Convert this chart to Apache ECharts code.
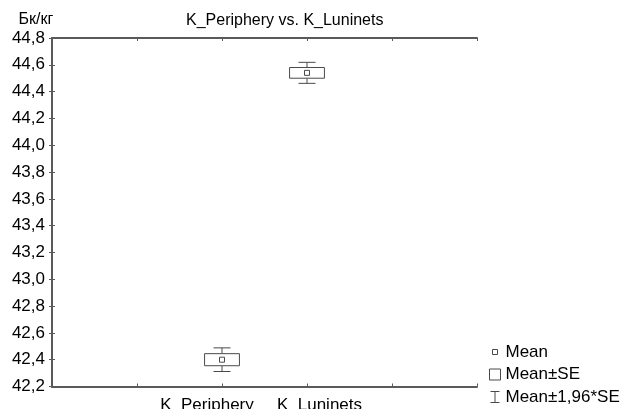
<!DOCTYPE html>
<html>
<head>
<meta charset="utf-8">
<script src="https://cdn.jsdelivr.net/npm/echarts@6/dist/echarts.min.js"></script>
<style>html,body{margin:0;padding:0;background:#fff;}#c{width:632px;height:409px;}</style>
</head>
<body>
<div id="c"></div>
<script>
// ---- data ----
const categories = ['K_Periphery', 'K_Luninets'];
const positions = [2, 3];          // position of each variable on the 0..5 x scale
const means = [42.40, 44.54];
const stdErrors = [0.045, 0.04];
const yTickMin = 42.2, yTickMax = 44.8, yTickStep = 0.2;
const titleText = 'K_Periphery vs. K_Luninets';
const yUnit = 'Бк/кг';
const legendNames = ['Mean', 'Mean±SE', 'Mean±1,96*SE'];

const LINE = '#4a4a4a';
const AXIS = '#5a5a5a';
const FONT = 'Liberation Sans, Arial, sans-serif';

const pts = categories.map((c, i) => [positions[i], means[i], stdErrors[i]]);

const chart = echarts.init(document.getElementById('c'), null, {renderer: 'canvas'});

function boxItem(params, api) {
  const x = api.value(0), m = api.value(1), s = api.value(2);
  const top = api.coord([x, m + s]);
  const bot = api.coord([x, m - s]);
  const hw = api.size([0.205, 0])[0];
  return {
    type: 'rect',
    shape: {x: top[0] - hw, y: top[1], width: 2 * hw, height: bot[1] - top[1]},
    style: {fill: '#fff', stroke: LINE, lineWidth: 1}
  };
}
function whiskerItem(params, api) {
  const x = api.value(0), m = api.value(1), s = api.value(2);
  const hi = api.coord([x, m + 1.96 * s]);
  const lo = api.coord([x, m - 1.96 * s]);
  const hiB = api.coord([x, m + s]);
  const loB = api.coord([x, m - s]);
  const cw = api.size([0.1, 0])[0];
  const st = {stroke: LINE, lineWidth: 1};
  return {
    type: 'group',
    children: [
      {type: 'line', shape: {x1: hi[0], y1: hi[1], x2: hiB[0], y2: hiB[1]}, style: st},
      {type: 'line', shape: {x1: lo[0], y1: lo[1], x2: loB[0], y2: loB[1]}, style: st},
      {type: 'line', shape: {x1: hi[0] - cw, y1: hi[1], x2: hi[0] + cw, y2: hi[1]}, style: st},
      {type: 'line', shape: {x1: lo[0] - cw, y1: lo[1], x2: lo[0] + cw, y2: lo[1]}, style: st}
    ]
  };
}

const labelMap = {};
positions.forEach((p, i) => { labelMap[p] = categories[i]; });

const axisTickIn = {show: true, inside: true, length: 3, lineStyle: {color: AXIS, width: 1}};
const axisLineSt = {show: true, lineStyle: {color: AXIS, width: 2}};

chart.setOption({
  animation: false,
  backgroundColor: '#fff',
  textStyle: {fontFamily: FONT},
  title: {
    text: titleText, left: 181, top: 8,
    textStyle: {fontFamily: FONT, fontSize: 16, fontWeight: 'normal', color: '#000'}
  },
  grid: {left: 52, top: 38, width: 425, height: 348.5, containLabel: false, outerBoundsMode: 'none'},
  legend: {
    orient: 'vertical', left: 488, top: 343.5, itemWidth: 11, itemHeight: 11, itemGap: 5.5,
    padding: 0, height: 66,
    textStyle: {fontFamily: FONT, fontSize: 17, color: '#000'},
    selectedMode: false,
    data: [
      {name: legendNames[0], icon: 'path://M0,0M11,11M3,3L8,3L8,8L3,8Z',
        itemStyle: {color: '#fff', borderColor: LINE, borderWidth: 1}},
      {name: legendNames[1], icon: 'path://M0,0L11,0L11,11L0,11Z',
        itemStyle: {color: '#fff', borderColor: LINE, borderWidth: 1}},
      {name: legendNames[2], icon: 'path://M1,0L10,0M5.5,0L5.5,11M1,11L10,11',
        itemStyle: {color: 'none', borderColor: LINE, borderWidth: 1}}
    ]
  },
  xAxis: [
    {
      type: 'value', min: 0, max: 5, interval: 1, position: 'bottom',
      axisLine: axisLineSt, axisTick: axisTickIn, splitLine: {show: false},
      axisLabel: {
        show: true, margin: 10, fontSize: 17, color: '#000', fontFamily: FONT,
        showMinLabel: true, showMaxLabel: true,
        formatter: v => {
          if (v === positions[0]) return '{a|' + labelMap[v] + '}';
          if (v === positions[1]) return '{b|' + labelMap[v] + '}';
          return '';
        },
        rich: {
          a: {fontSize: 17, fontFamily: FONT, color: '#000', padding: [0, 30, 0, 0]},
          b: {fontSize: 17, fontFamily: FONT, color: '#000', padding: [0, 0, 0, 25]}
        }
      }
    },
    {
      type: 'value', min: 0, max: 5, interval: 1, position: 'top',
      axisLine: axisLineSt, axisTick: axisTickIn, splitLine: {show: false},
      axisLabel: {show: false}
    }
  ],
  yAxis: [
    {
      type: 'value', min: yTickMin, max: yTickMax, interval: yTickStep, position: 'left',
      name: yUnit, nameLocation: 'end', nameGap: 10,
      nameTextStyle: {fontFamily: FONT, fontSize: 16, color: '#000', align: 'center', padding: [0, 32, 0, 0]},
      axisLine: axisLineSt, axisTick: axisTickIn, splitLine: {show: false},
      axisLabel: {margin: 7, fontSize: 17, color: '#000', fontFamily: FONT,
        formatter: v => v.toFixed(1).replace('.', ',')}
    },
    {
      type: 'value', min: yTickMin, max: yTickMax, interval: yTickStep, position: 'right',
      axisLine: axisLineSt, axisTick: axisTickIn, splitLine: {show: false},
      axisLabel: {show: false}
    }
  ],
  series: [
    {
      name: legendNames[2], type: 'custom', renderItem: whiskerItem, data: pts,
      xAxisIndex: 0, yAxisIndex: 0, itemStyle: {color: LINE}, z: 2
    },
    {
      name: legendNames[1], type: 'custom', renderItem: boxItem, data: pts,
      xAxisIndex: 0, yAxisIndex: 0, itemStyle: {color: '#fff'}, z: 3
    },
    {
      name: legendNames[0], type: 'scatter', symbol: 'rect', symbolSize: 5,
      data: pts.map(p => [p[0], p[1]]),
      itemStyle: {color: '#fff', borderColor: LINE, borderWidth: 1, opacity: 1}, z: 4
    }
  ]
});
</script>
</body>
</html>
